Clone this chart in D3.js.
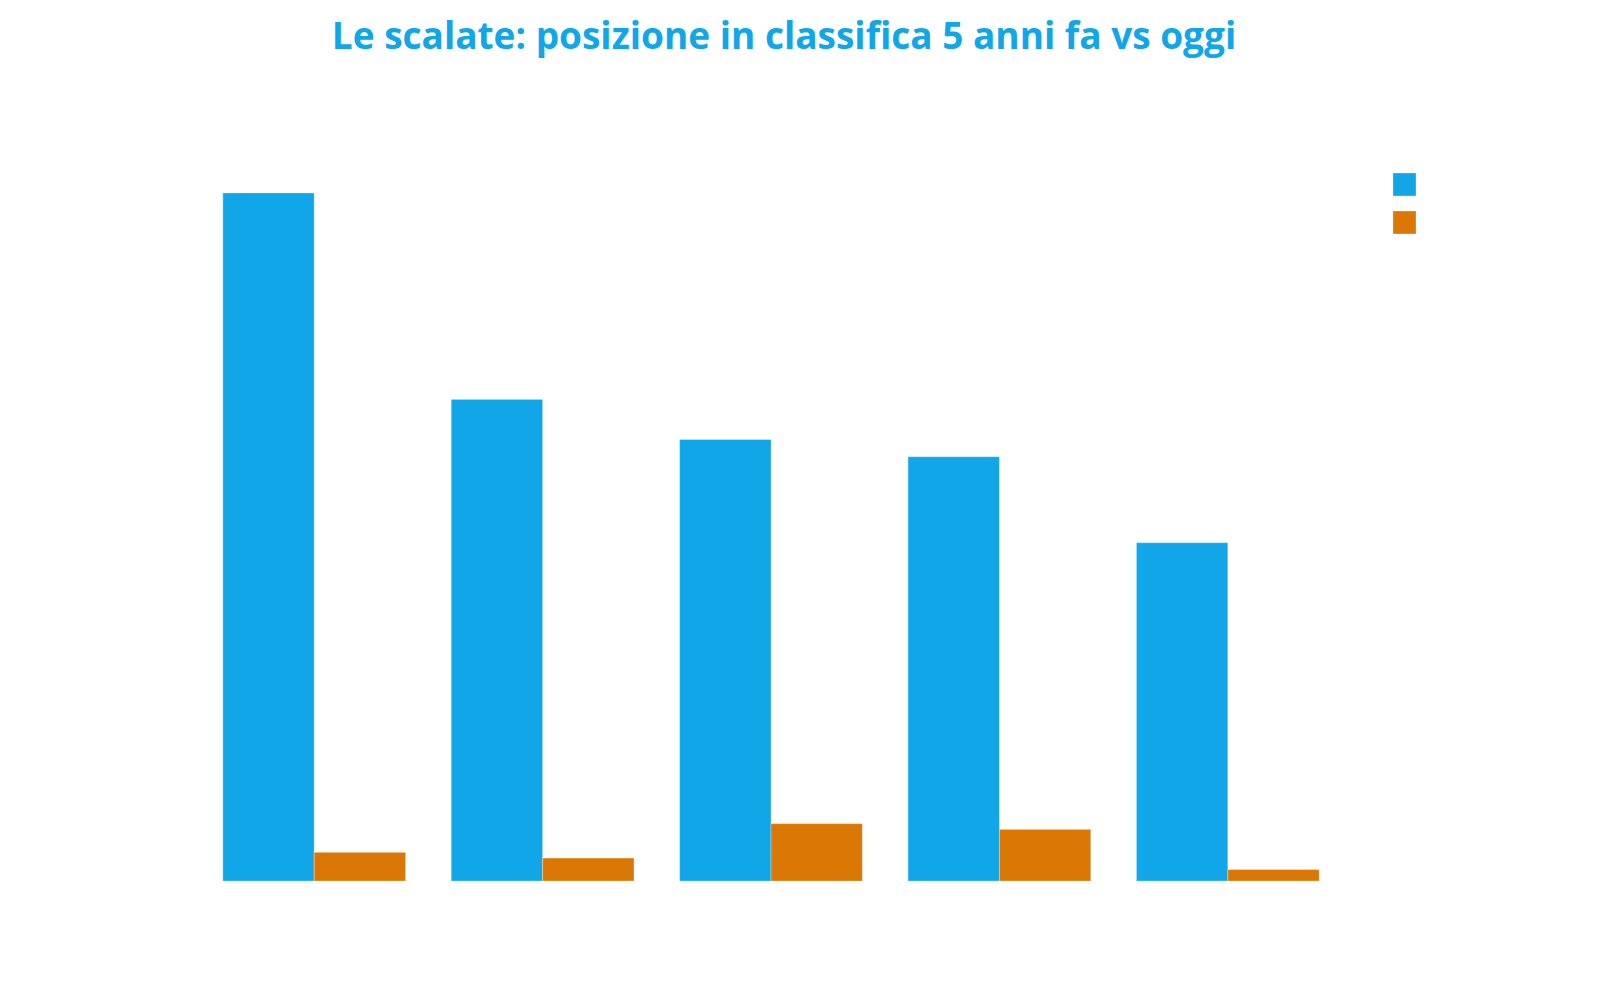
<!DOCTYPE html>
<html lang="it">
<head>
  <meta charset="UTF-8">
  <title>Le scalate</title>
</head>
<style>
  body {
    margin: 0;
    background: #fff;
  }
  svg {
    display: block;
  }
  .title {
    font-family: "Open Sans", "Noto Sans", sans-serif;
    font-weight: 700;
    fill: #10a6e8;
  }
</style>
<body>
<svg width="1600" height="1000"></svg>
<script src="https://cdn.jsdelivr.net/npm/d3@7"></script>
<script>
  // posizione in classifica: 5 anni fa / oggi
  const categories = ['1', '2', '3', '4', '5'];
  const series = ['5 anni fa', 'oggi'];
  const fiveYearsAgo = [120, 84, 77, 74, 59];
  const today = [5, 4, 10, 9, 2];
  const colors = ['#10a6e8', '#db7705'];

  const svg = d3.select('svg');

  svg.append('text')
    .attr('class', 'title')
    .attr('x', 784)
    .attr('y', 49)
    .attr('text-anchor', 'middle')
    .style('font-size', '37px')
    .text('Le scalate: posizione in classifica 5 anni fa vs oggi');

  const x0 = d3.scaleBand()
    .domain(categories)
    .range([200, 1342])
    .paddingInner(0.2)
    .paddingOuter(0.1);

  const x1 = d3.scaleBand()
    .domain(series)
    .range([0, x0.bandwidth()]);

  const y = d3.scaleLinear()
    .domain([0, d3.max(fiveYearsAgo)])
    .range([881, 193]);

  const rows = categories.map((c, i) => ({
    cat: c,
    vals: [fiveYearsAgo[i], today[i]]
  }));

  const groups = svg.append('g').selectAll('g').data(rows)
    .join('g')
    .attr('transform', d => `translate(${x0(d.cat)},0)`);

  groups.selectAll('rect')
    .data(d => d.vals.map((v, j) => ({s: series[j], v: v, j: j})))
    .join('rect')
    .attr('x', d => x1(d.s))
    .attr('y', d => y(d.v))
    .attr('width', x1.bandwidth())
    .attr('height', d => y(0) - y(d.v))
    .style('fill', d => colors[d.j])
    .style('stroke', '#fff')
    .style('stroke-opacity', 0.3)
    .style('stroke-width', 1);

  // legenda senza testo
  const legend = svg.append('g').attr('transform', 'translate(1393,173)');
  legend.selectAll('rect').data(series)
    .join('rect')
    .attr('x', 0)
    .attr('y', (d, i) => i * 38)
    .attr('width', 23)
    .attr('height', 23)
    .style('fill', (d, i) => colors[i])
    .style('stroke', '#fff')
    .style('stroke-opacity', 0.3);
</script>
</body>
</html>
